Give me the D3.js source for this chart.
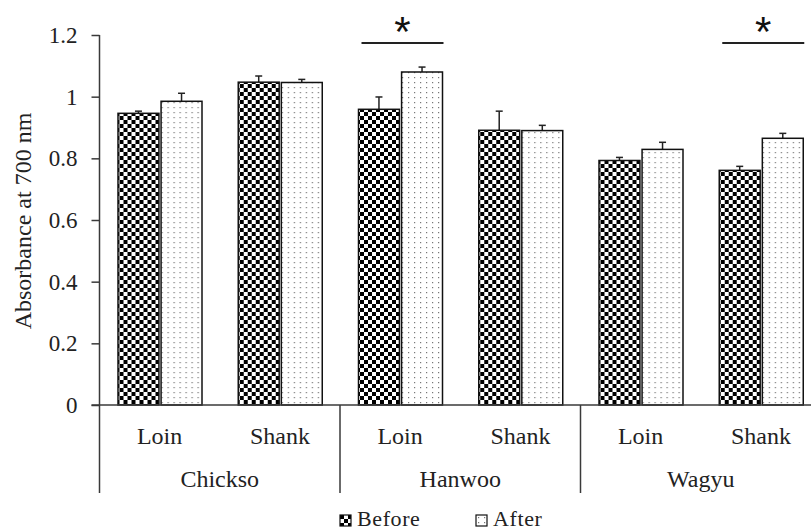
<!DOCTYPE html>
<html>
<head>
<meta charset="utf-8">
<script src="https://cdn.jsdelivr.net/npm/d3@7"></script>
<style>
  html, body { margin: 0; padding: 0; background: #fff; }
  svg { display: block; font-family: "Liberation Serif", "Times New Roman", serif; }
</style>
</head>
<body>
<div id="chart"></div>
<script>
// ------- data -------
const groups = ["Chickso", "Hanwoo", "Wagyu"];
const cuts = ["Loin", "Shank"];
const series = ["Before", "After"];

// order: Chickso Loin, Chickso Shank, Hanwoo Loin, Hanwoo Shank, Wagyu Loin, Wagyu Shank
const beforeVals = [0.946, 1.047, 0.959, 0.891, 0.793, 0.761];
const beforeErr  = [0.007, 0.020, 0.040, 0.062, 0.010, 0.013];
const afterVals  = [0.985, 1.046, 1.080, 0.890, 0.829, 0.865];
const afterErr   = [0.026, 0.010, 0.016, 0.017, 0.023, 0.016];

const yTicks = [0, 0.2, 0.4, 0.6, 0.8, 1, 1.2];
const yTickLabels = ["0", "0.2", "0.4", "0.6", "0.8", "1", "1.2"];
const yTitle = "Absorbance at 700 nm";

// significant pairs (marked with *)
const sigPairs = [["Hanwoo", "Loin"], ["Wagyu", "Shank"]];
const sigLevel = 1.174;

(() => {
  const W = 811, H = 531;
  const X0 = 99.5, STEP = 120.25;
  const Y0 = 405, Y1 = 35;
  const AXIS = "#3a3a3a";

  const svg = d3.select("#chart").append("svg")
    .attr("width", W).attr("height", H)
    .attr("viewBox", `0 0 ${W} ${H}`);

  // ------- patterns -------
  const defs = svg.append("defs");
  const checker = defs.append("pattern")
    .attr("id", "checker").attr("patternUnits", "userSpaceOnUse")
    .attr("width", 8).attr("height", 8);
  checker.append("rect").attr("width", 8).attr("height", 8).attr("fill", "#fff");
  checker.append("rect").attr("width", 4).attr("height", 4).attr("fill", "#000");
  checker.append("rect").attr("x", 4).attr("y", 4).attr("width", 4).attr("height", 4).attr("fill", "#000");

  const dots = defs.append("pattern")
    .attr("id", "dots").attr("patternUnits", "userSpaceOnUse")
    .attr("width", 6).attr("height", 5);
  dots.append("rect").attr("width", 6).attr("height", 5).attr("fill", "#fff");
  dots.append("rect").attr("x", 2).attr("y", 2).attr("width", 1.2).attr("height", 1.2).attr("fill", "#777");

  const fillFor = { Before: "url(#checker)", After: "url(#dots)" };

  // ------- scales -------
  const cats = [];
  groups.forEach(g => cuts.forEach(c => cats.push(`${g}|${c}`)));

  const x = d3.scaleBand()
    .domain(cats)
    .range([X0, X0 + STEP * cats.length])
    .padding(0);

  const xs = d3.scaleBand()
    .domain(series)
    .range([18.5, 102.5])
    .paddingInner(0.05);

  const y = d3.scaleLinear().domain([0, 1.2]).range([Y0, Y1]);

  const rows = cats.map((k, i) => {
    const [g, c] = k.split("|");
    return {
      key: k, group: g, cut: c,
      vals: [
        { s: "Before", v: beforeVals[i], e: beforeErr[i] },
        { s: "After", v: afterVals[i], e: afterErr[i] }
      ]
    };
  });

  // ------- y axis -------
  const yAxis = d3.axisLeft(y)
    .tickValues(yTicks)
    .tickFormat((d, i) => yTickLabels[i])
    .tickSize(8)
    .tickSizeOuter(0)
    .tickPadding(14);

  const ya = svg.append("g")
    .attr("transform", `translate(${X0},0)`)
    .call(yAxis);
  ya.select(".domain").remove();
  ya.selectAll("line").attr("stroke", AXIS).attr("stroke-width", 1.5);
  ya.selectAll("text")
    .attr("fill", "#222")
    .style("font-family", "'Liberation Serif', serif")
    .style("font-size", "23px");

  svg.append("line")
    .attr("x1", X0).attr("x2", X0)
    .attr("y1", y(1.2)).attr("y2", Y0)
    .attr("stroke", AXIS).attr("stroke-width", 1.5);

  svg.append("text")
    .attr("transform", `translate(31,${(y(0) + y(1.2)) / 2 + 1}) rotate(-90)`)
    .attr("text-anchor", "middle")
    .attr("fill", "#222")
    .style("font-size", "24px")
    .text(yTitle);

  // ------- bars -------
  const cat = svg.append("g").selectAll("g.cat")
    .data(rows).enter().append("g")
    .attr("class", "cat")
    .attr("transform", d => `translate(${x(d.key)},0)`);

  const bar = cat.selectAll("g.bar")
    .data(d => d.vals).enter().append("g")
    .attr("class", "bar");

  // error bars (upper only)
  bar.append("line")
    .attr("x1", d => xs(d.s) + xs.bandwidth() / 2)
    .attr("x2", d => xs(d.s) + xs.bandwidth() / 2)
    .attr("y1", d => y(d.v))
    .attr("y2", d => y(d.v + d.e))
    .attr("stroke", "#222").attr("stroke-width", 1.5);
  bar.append("line")
    .attr("x1", d => xs(d.s) + xs.bandwidth() / 2 - 3.5)
    .attr("x2", d => xs(d.s) + xs.bandwidth() / 2 + 3.5)
    .attr("y1", d => y(d.v + d.e))
    .attr("y2", d => y(d.v + d.e))
    .attr("stroke", "#222").attr("stroke-width", 1.5);

  bar.append("rect")
    .attr("x", d => xs(d.s))
    .attr("y", d => y(d.v))
    .attr("width", xs.bandwidth())
    .attr("height", d => Y0 - y(d.v))
    .attr("fill", d => fillFor[d.s])
    .attr("stroke", "#111")
    .attr("stroke-width", 1.5);

  // ------- x axis (multi-level) -------
  svg.append("line")
    .attr("x1", X0 - 8).attr("x2", W)
    .attr("y1", Y0).attr("y2", Y0)
    .attr("stroke", AXIS).attr("stroke-width", 1.5);

  svg.append("g").selectAll("line")
    .data(d3.range(groups.length + 1)).enter().append("line")
    .attr("x1", i => X0 + i * STEP * cuts.length)
    .attr("x2", i => X0 + i * STEP * cuts.length)
    .attr("y1", Y0).attr("y2", 493)
    .attr("stroke", AXIS).attr("stroke-width", 1.5);

  svg.append("g").selectAll("text")
    .data(rows).enter().append("text")
    .attr("x", d => x(d.key) + x.bandwidth() / 2)
    .attr("y", 444)
    .attr("text-anchor", "middle")
    .attr("fill", "#222")
    .style("font-size", "24px")
    .text(d => d.cut);

  svg.append("g").selectAll("text")
    .data(groups).enter().append("text")
    .attr("x", g => x(`${g}|${cuts[0]}`) + STEP)
    .attr("y", 487)
    .attr("text-anchor", "middle")
    .attr("fill", "#222")
    .style("font-size", "24px")
    .text(g => g);

  // ------- significance -------
  const sig = svg.append("g").selectAll("g")
    .data(sigPairs).enter().append("g")
    .attr("transform", d => `translate(${x(d.join("|"))},0)`);
  sig.append("line")
    .attr("x1", xs("Before") + 3).attr("x2", xs("After") + xs.bandwidth() + 1)
    .attr("y1", y(sigLevel)).attr("y2", y(sigLevel))
    .attr("stroke", "#222").attr("stroke-width", 1.8);
  sig.append("text")
    .attr("x", (xs("Before") + xs("After") + xs.bandwidth()) / 2 + 2)
    .attr("y", 46)
    .attr("text-anchor", "middle")
    .attr("fill", "#111")
    .style("font-family", "'Liberation Sans', Arial, sans-serif")
    .style("font-size", "42px")
    .text("*");

  // ------- legend -------
  const legendX = [340, 476];
  const lg = svg.append("g").selectAll("g")
    .data(series).enter().append("g")
    .attr("transform", (d, i) => `translate(${legendX[i]},515)`);
  lg.append("rect")
    .attr("width", 11).attr("height", 11)
    .attr("fill", d => fillFor[d])
    .attr("stroke", "#111").attr("stroke-width", 1.2);
  lg.append("text")
    .attr("x", 17).attr("y", 11)
    .attr("fill", "#222")
    .style("font-size", "22px")
    .style("letter-spacing", "0.6px")
    .text(d => d);
})();
</script>
</body>
</html>
